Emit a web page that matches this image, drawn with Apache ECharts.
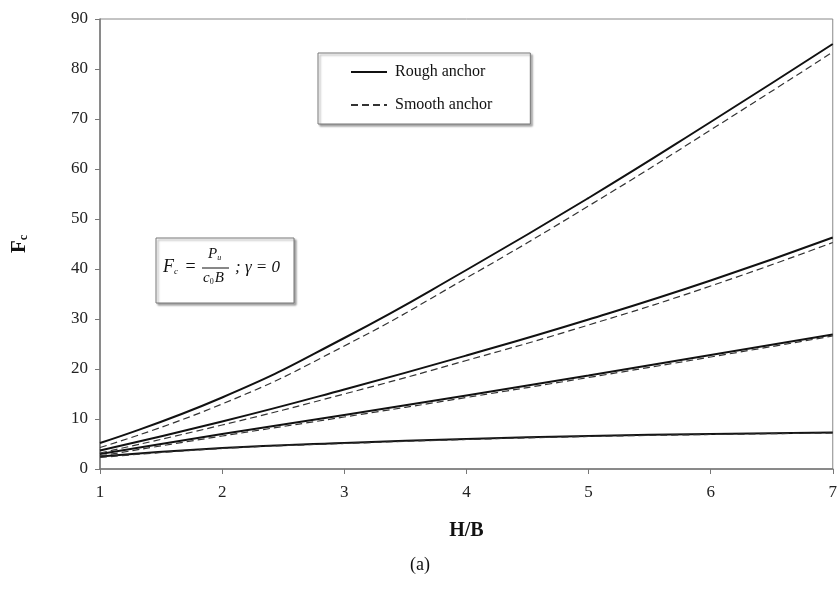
<!DOCTYPE html>
<html><head><meta charset="utf-8">
<script src="https://cdn.jsdelivr.net/npm/echarts@6/dist/echarts.min.js"></script>
<style>html,body{margin:0;padding:0;background:#fff}#c{width:840px;height:597px}</style>
</head><body><div id="c"></div>
<script>
const hb = [1, 2, 3, 4, 5, 6, 7];
const rough1 = [5.2, 14.3, 26.2, 39.8, 54.2, 69.4, 85.0];
const smooth1 = [4.3, 13.0, 24.6, 38.2, 52.6, 67.8, 83.4];
const rough2 = [3.7, 9.5, 15.9, 22.7, 29.9, 37.7, 46.3];
const smooth2 = [3.2, 8.8, 15.0, 21.7, 28.8, 36.6, 45.3];
const rough3 = [3.0, 7.0, 10.8, 14.7, 18.7, 22.8, 26.9];
const smooth3 = [2.6, 6.6, 10.4, 14.3, 18.3, 22.4, 26.6];
const rough4 = [2.5, 4.2, 5.2, 6.0, 6.6, 7.0, 7.3];
const smooth4 = [2.3, 4.1, 5.1, 5.9, 6.5, 6.9, 7.2];
const yTicks = [0, 10, 20, 30, 40, 50, 60, 70, 80, 90];
const xTicks = [1, 2, 3, 4, 5, 6, 7];

const FONT = 'Liberation Serif';
const pairs = (ys) => hb.map((x, i) => [x, ys[i]]);
function ser(name, ys, dashed) {
  return {
    name, type: 'line', data: pairs(ys), smooth: true, symbol: 'none', showSymbol: false,
    lineStyle: dashed ? { color: '#333', width: 1.2, type: [7, 4] } : { color: '#111', width: 2 },
    itemStyle: { color: dashed ? '#333' : '#111' }, z: dashed ? 3 : 2, animation: false
  };
}
const chart = echarts.init(document.getElementById('c'));
chart.setOption({
  animation: false,
  backgroundColor: '#fff',
  grid: { left: 100, right: 7, top: 19, bottom: 128, show: true, borderColor: '#888', borderWidth: 1 },
  xAxis: {
    type: 'value', min: 1, max: 7, interval: 1,
    name: 'H/B', nameLocation: 'middle', nameGap: 52,
    nameTextStyle: { fontFamily: FONT, fontWeight: 'bold', fontSize: 20, color: '#111' },
    axisLine: { lineStyle: { color: '#777', width: 1.5 } },
    axisTick: { lineStyle: { color: '#777' }, length: 5 },
    axisLabel: { fontFamily: FONT, fontSize: 17, color: '#222', margin: 15,
      formatter: v => xTicks.includes(v) ? String(v) : '' },
    splitLine: { show: false }
  },
  yAxis: {
    type: 'value', min: 0, max: 90, interval: 10,
    name: '{f|F}{s|c}', nameLocation: 'middle', nameGap: 70, nameRotate: 90,
    nameTextStyle: { rich: {
      f: { fontFamily: FONT, fontWeight: 'bold', fontSize: 21, color: '#111' },
      s: { fontFamily: FONT, fontWeight: 'bold', fontSize: 12, color: '#111', verticalAlign: 'bottom', padding: [8, 0, 0, 0] }
    } },
    axisLine: { show: true, lineStyle: { color: '#777', width: 1.5 } },
    axisTick: { show: true, lineStyle: { color: '#777' }, length: 5 },
    axisLabel: { fontFamily: FONT, fontSize: 17, color: '#222', margin: 12,
      formatter: v => yTicks.includes(v) ? String(v) : '' },
    splitLine: { show: false }
  },
  legend: {
    left: 318, top: 53, orient: 'vertical',
    padding: [11, 38, 11, 32], itemGap: 17, itemWidth: 36, itemHeight: 14,
    borderColor: '#777', borderWidth: 1,
    shadowColor: 'rgba(0,0,0,0.35)', shadowOffsetX: 2, shadowOffsetY: 2, shadowBlur: 2,
    backgroundColor: '#fff',
    data: ['Rough anchor', 'Smooth anchor'],
    itemStyle: { opacity: 0 },
    textStyle: { fontFamily: FONT, fontSize: 16, color: '#111', padding: [0, 0, 0, 3] },
    selectedMode: false
  },
  series: [
    ser('Rough anchor', rough1, false), ser('Smooth anchor', smooth1, true),
    ser('Rough anchor', rough2, false), ser('Smooth anchor', smooth2, true),
    ser('Rough anchor', rough3, false), ser('Smooth anchor', smooth3, true),
    ser('Rough anchor', rough4, false), ser('Smooth anchor', smooth4, true)
  ],
  graphic: [
    { type: 'rect', shape: { x: 156, y: 238, width: 138, height: 65 },
      style: { fill: '#fff', stroke: '#777', lineWidth: 1, shadowColor: 'rgba(0,0,0,0.35)', shadowOffsetX: 2, shadowOffsetY: 2, shadowBlur: 2 }, z: 10 },
    { type: 'text', left: 163, top: 258, z: 11,
      style: { text: '{i|F}{sub|c} =', rich: {
        i: { fontFamily: FONT, fontStyle: 'italic', fontSize: 18, fill: '#111' },
        sub: { fontFamily: FONT, fontStyle: 'italic', fontSize: 9, fill: '#111', padding: [9, 3, 0, 0] }
      }, font: '18px "Liberation Serif"', fill: '#111' } },
    { type: 'text', left: 208, top: 247, z: 11,
      style: { text: '{i|P}{sub|u}', rich: {
        i: { fontFamily: FONT, fontStyle: 'italic', fontSize: 15, fill: '#111' },
        sub: { fontFamily: FONT, fontStyle: 'italic', fontSize: 8, fill: '#111', padding: [7, 0, 0, 0] }
      } } },
    { type: 'line', shape: { x1: 202, y1: 268, x2: 229, y2: 268 }, style: { stroke: '#111', lineWidth: 1 }, z: 11 },
    { type: 'text', left: 203, top: 271, z: 11,
      style: { text: '{i|c}{sub|0}{i|B}', rich: {
        i: { fontFamily: FONT, fontStyle: 'italic', fontSize: 15, fill: '#111' },
        sub: { fontFamily: FONT, fontSize: 8, fill: '#111', padding: [7, 1, 0, 0] }
      } } },
    { type: 'text', left: 235, top: 259, z: 11,
      style: { text: '; γ = 0', font: 'italic 17px "Liberation Serif"', fill: '#111' } },
    { type: 'text', left: 'center', top: 556, z: 11,
      style: { text: '(a)', font: '18px "Liberation Serif"', fill: '#111' } }
  ]
});
</script></body></html>
